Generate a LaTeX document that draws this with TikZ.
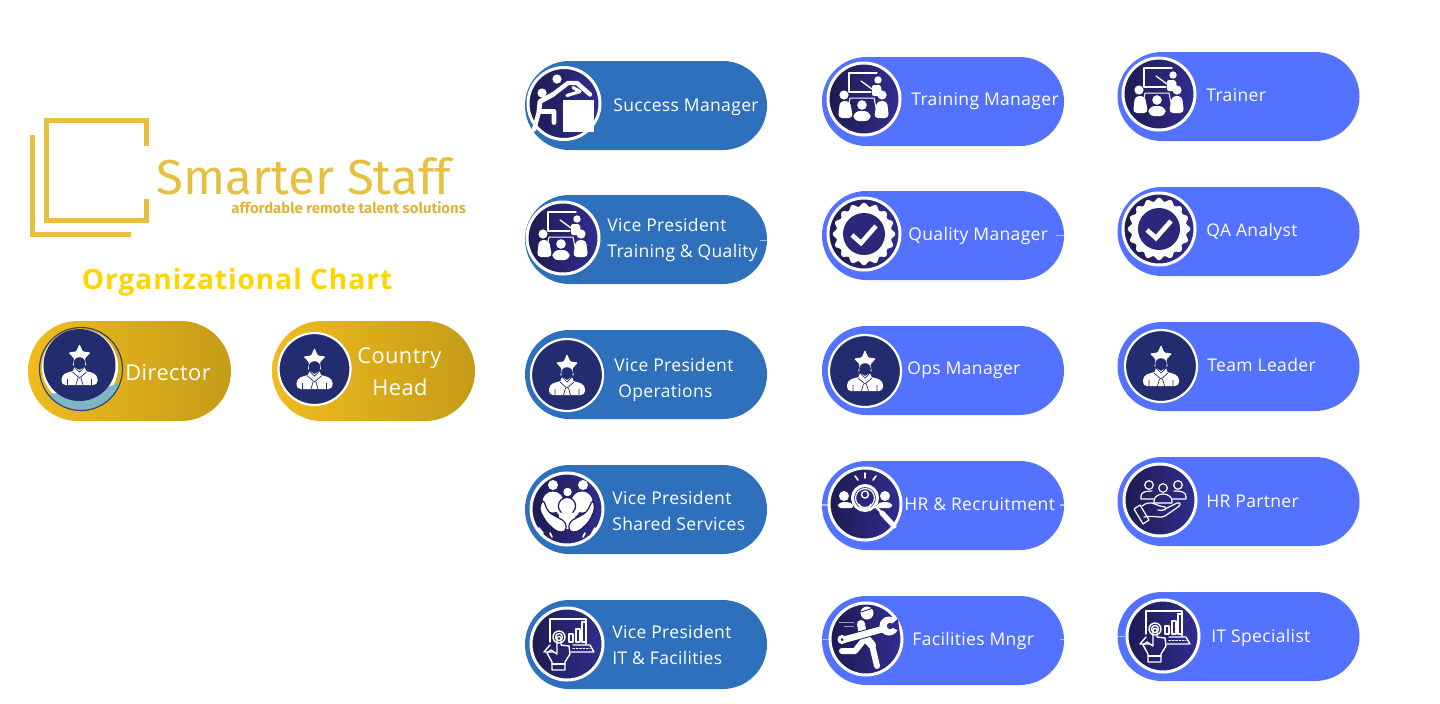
\documentclass[tikz,border=0pt]{standalone}
\usepackage{fontspec}
\setmainfont{Open Sans}
\newfontfamily\lblfont[LetterSpace=2]{Open Sans}
\newfontfamily\logofont[Ligatures=NoCommon]{Fira Sans}
\newfontfamily\subfont{Fira Sans}
\newfontfamily\ttlfont[LetterSpace=3.6]{Open Sans}
\definecolor{vpblue}{HTML}{2E70BC}
\definecolor{mgblue}{HTML}{5372FF}
\definecolor{navyA}{HTML}{1D1B50}
\definecolor{navyB}{HTML}{312D8F}
\definecolor{navyF}{HTML}{232C6E}
\definecolor{goldL}{HTML}{F0BC1E}
\definecolor{goldR}{HTML}{C49C18}
\definecolor{logogold}{HTML}{E6C03E}
\definecolor{ttlgold}{HTML}{FFD500}
\definecolor{tealw}{HTML}{7FB6C6}
\tikzset{
  pillbox/.style={rectangle,rounded corners=22.2pt,minimum width=121pt,minimum height=44.5pt,inner sep=0pt,draw=none},
  vppill/.style={pillbox,fill=vpblue},
  mgpill/.style={pillbox,fill=mgblue},
  goldpill/.style={rectangle,rounded corners=25pt,minimum width=101.5pt,minimum height=50pt,inner sep=0pt,draw=none,left color=goldL,right color=goldR},
  discbox/.style={circle,minimum size=36pt,inner sep=0pt,draw=white,line width=1.5pt,left color=navyA,right color=navyB},
  flatdisc/.style={circle,minimum size=36pt,inner sep=0pt,draw=white,line width=1.1pt,fill=navyF},
  lab/.style={anchor=base west,inner sep=0pt,text=white,font=\lblfont\fontsize{8.75}{10}\selectfont},
  biglab/.style={anchor=base west,inner sep=0pt,text=white,font=\lblfont\fontsize{10.9}{13}\selectfont},
  stub/.style={draw=white,draw opacity=.55,line width=.6pt},
  wl/.style={draw=white,line cap=round,line join=round},
  nl/.style={draw=navyA,line cap=round,line join=round},
  logoline/.style={draw=logogold,line width=2.5pt,line cap=butt,line join=miter}
}
\newcommand{\icperson}{%
  \fill[white,rounded corners=.5pt] (0,-21)--(3.3,-13.5)--(11,-12.5)--(5.4,-6.5)--(6.8,1)--(0,-2.5)--(-6.8,1)--(-5.4,-6.5)--(-11,-12.5)--(-3.3,-13.5)--cycle;
  \fill[navyF] (0,-2) circle[radius=5.8];
  \fill[white,rounded corners=2pt] (-18,20)--(-18,10)--(-8,6)--(8,6)--(18,10)--(18,20)--cycle;
  \fill[white] (-7,7)--(-5,2)--(0,5)--(5,2)--(7,7)--(0,13)--cycle;
  \draw[draw=navyF,line width=.35pt] (-7,7)--(0,13)--(7,7) (-5,2)--(0,7)--(5,2) (-1.5,13)--(-3.5,20) (1.5,13)--(3.5,20) (-12,14)--(-12,20) (12,14)--(12,20);
}
\newcommand{\ictrain}{%
  \draw[wl,line width=.65pt] (13,-26)--(-15,-26)--(-15,-7)--(7,-7);
  \draw[wl,line width=.65pt] (-3,-18)--(8,-10);
  \fill[white] (14,-19) circle[radius=3.7];
  \fill[white,rounded corners=1pt] (8,-14)--(17,-14)--(18,-3)--(8,-3)--cycle;
  \draw[wl,line width=.5pt] (-14,-1)--(10,-1)--(13,14) (-14,-1)--(-17,14);
  \fill[white] (-20,-4) circle[radius=4.6] (18,-4) circle[radius=4.6] (-2,6) circle[radius=4.8];
  \fill[white,rounded corners=2pt] (-26,19)--(-24,2)--(-14,2)--(-11,19)--cycle;
  \fill[white,rounded corners=2pt] (25,19)--(23,2)--(13,2)--(10,19)--cycle;
  \fill[white,rounded corners=3pt] (-11,22)--(-10,12)--(6,12)--(7,22)--cycle;
}
\newcommand{\icbadge}{%
  \fill[white] plot[domain=0:360,samples=161,smooth] ({\x}:{29.5+1.8*cos(16*\x)}) -- cycle;
  \fill[navyB!70!navyA] (0,0) circle[radius=21];
  \draw[wl,line width=2.3pt,line cap=butt,line join=miter] (-12,1)--(-3,9)--(12,-8);
}
\newcommand{\icclimb}{%
  \fill[white] (-1,-4) rectangle (30,28);
  \fill[white] (-7,-24.5) circle[radius=4.6] (-22,-10.5) circle[radius=4.6];
  \draw[wl,line width=2.2pt] (-11,-9)--(4,-20.5)--(13,-20.5)--(26,-9);
  \draw[wl,line width=1.6pt] (3,-8)--(16,-12)--(9,-16);
  \draw[wl,line width=2.4pt] (-11,-9)--(-24,-2)--(-25,8)--(-10,8)--(-10,19);
  \draw[wl,line width=2.2pt] (-25,8)--(-30,26);
}
\newcommand{\iccare}{%
  \fill[white] (-14,-24) circle[radius=5] (16,-24) circle[radius=5] (0.5,-17) circle[radius=4.2];
  \fill[white] (-14,-7) circle[radius=10.5] (15,-7) circle[radius=10.5];
  \fill[white,rounded corners=2pt] (-15,-9)--(17,-9)--(10,8)--(-8,8)--cycle;
  \draw[nl,line width=.6pt,fill=white] (0,-3) circle[radius=8.6];
  \fill[white,rounded corners=2pt] (-8,3)--(8,3)--(8,20)--(-8,20)--cycle;
  \draw[nl,line width=.6pt,fill=white,rounded corners=2pt] (-1,23)--(-10,23)--(-21,13)--(-28,0)--(-24,-10)--(-19,3)--(-12,7)--(-1,13)--cycle;
  \draw[nl,line width=.6pt,fill=white,rounded corners=2pt] (2,23)--(11,23)--(22,13)--(28,0)--(26,-10)--(20,3)--(13,7)--(2,13)--cycle;
  \draw[wl,line width=.8pt] (-24,24)--(-28,19) (-15,28)--(-17,24) (25,24)--(28,19) (16,28)--(18,24);
}
\newcommand{\icsearch}{%
  \fill[white] (-21,-8) circle[radius=5] (20,-8) circle[radius=5];
  \fill[white,rounded corners=2pt] (-28,4)--(-26,-2)--(-14,-2)--(-10,4)--cycle;
  \fill[white,rounded corners=2pt] (28,4)--(26,-2)--(14,-2)--(10,4)--cycle;
  \draw[draw=white,line width=1.5pt,fill=navyB!70!navyA] (0,-6) circle[radius=12.5];
  \draw[draw=white,line width=.6pt] (0,-6) circle[radius=9.5];
  \draw[draw=white,line width=.7pt] (0,-9.5) circle[radius=3.5] (-6,0) arc[start angle=180,end angle=360,x radius=6,y radius=-5];
  \draw[wl,line width=1.2pt] (11,3)--(17,9);
  \draw[wl,line width=2.6pt] (17,9)--(29,22);
  \draw[wl,line width=.8pt] (-10,-28)--(-7,-24) (0,-31)--(0,-26) (11,-28)--(8,-24);
}
\newcommand{\ichand}{%
  \begin{scope}[line width=.6pt]
  \draw[wl] (-11,-15) circle[radius=4.3] (3,-12) circle[radius=4.3] (18,-15) circle[radius=4.3];
  \draw[wl] (-19,-1)--(-19,-4) .. controls (-19,-8) and (-14,-9) .. (-8,-9) (26,-3) .. controls (26,-8) and (22,-9) .. (14,-9) (-19,-1)--(-6,-1) (26,-3)--(26,-1)--(12,-1);
  \draw[wl] (-6,3)--(-6,1) .. controls (-6,-3) and (-2,-6) .. (3,-6) .. controls (8,-6) and (12,-3) .. (12,1)--(12,3)--cycle;
  \draw[wl] (-18,6) .. controls (-10,0) and (-6,4) .. (0,6)--(5,7) .. controls (7,9) and (5,11) .. (-2,10) (5,9)--(17,3) .. controls (21,2) and (21,5) .. (18,7)--(5,16) .. controls (0,19) and (-4,15) .. (-16,17);
  \draw[wl] (-26,9)--(-20,5)--(-11,20)--(-17,24)--cycle;
  \end{scope}
}
\newcommand{\icfix}{%
  \fill[white] (1,-26) circle[radius=6.5];
  \draw[draw=navyA,line width=.4pt] (-5,-27)--(7,-31);
  \draw[wl,line width=3pt] (-3,2)--(-11,12)--(-24,12);
  \draw[wl,line width=3pt] (6,6)--(11,27);
  \draw[wl,line width=4pt] (-5,-15)--(-3,-4)--(6,6);
  \draw[nl,line width=4.2pt,line cap=butt] (-23,1)--(17,-10);
  \draw[wl,line width=3.3pt,line cap=butt] (-23,1)--(17,-10);
  \fill[white] (-24,0.5) circle[radius=4.6];
  \fill[navyA] (-24,0.5) circle[radius=1.5];
  \fill[white] (23,-13) circle[radius=9.5];
  \fill[navyB] (23,-13)--(32,-20)--(33.5,-8)--cycle;
  \fill[navyB] (24,-13) circle[radius=3.2];
  \draw[draw=white,draw opacity=.55,line width=.5pt] (-27,-17)--(-12,-17) (-22,-13)--(-12,-13);
}
\newcommand{\iclaptop}{%
  \begin{scope}[line width=.7pt]
  \draw[wl] (-17,-2)--(-17,-25)--(19,-25)--(19,0);
  \draw[wl] (2,-10) rectangle (6,-2) (9,-15) rectangle (13,-2) (15,-22) rectangle (19,-2);
  \draw[wl] (-8,-7) circle[radius=6] (-8,-7) circle[radius=3.5];
  \draw[wl] (-17,1)--(-23,8)--(-14,8) (6,1)--(23,1)--(27,8)--(4,8);
  \draw[wl,densely dotted] (6,4.5)--(23,4.5);
  \draw[wl] (-10,2)--(-10,-6) .. controls (-10,-8) and (-6,-8) .. (-6,-6)--(-6,1)--(2,2)--(3,10)--(-2,18)--(-2,26)--(-15,26)--(-15,18)--(-20,9)--(-16,6)--(-10,10)--cycle;
  \draw[wl] (-15,20)--(-2,20);
  \end{scope}
}
\newcommand{\mkpill}[4]{\node[#2] (#1) at (#3,#4) {};}
\newcommand{\mkdisc}[5]{\node[#2] (#1) at (#3,#4) {};\begin{scope}[shift={(#1.center)}]#5\end{scope}}
\begin{document}
\begin{tikzpicture}[x=0.5pt,y=-0.5pt]
\useasboundingbox (0,0) rectangle (1440,703);
\fill[white] (0,0) rectangle (1440,703);
% logo
\draw[logoline] (146,146)--(146,120.5)--(46,120.5)--(46,220.5)--(146,220.5)--(146,199);
\draw[logoline] (32.5,135)--(32.5,234.5)--(131,234.5);
\node[anchor=base west,inner sep=0pt,text=logogold,font=\logofont\fontsize{24.6}{30}\selectfont] (logoname) at (156,194) {Smarter Staff};
\node[anchor=base west,inner sep=0pt,text=logogold!95!black,font=\subfont\bfseries\fontsize{7.45}{9}\selectfont] (logosub) at (231,213) {affordable remote talent solutions};
\node[anchor=base west,inner sep=0pt,text=ttlgold,font=\ttlfont\bfseries\fontsize{14}{16}\selectfont] (title) at (81.5,289) {Organizational Chart};
% gold pills
\node[goldpill] (dirp) at (129.5,371) {};
\node[goldpill] (ctyp) at (373.5,371) {};
\fill[white] (80,367) circle[radius=38];
\begin{scope}
\clip (81,369) circle[radius=42];
\fill[tealw] (30,393) .. controls (60,394) and (100,394) .. (130,378) -- (130,420) -- (30,420) -- cycle;
\end{scope}
\draw[draw=navyF!75!gray,line width=.6pt] (81,369) circle[radius=41.5];
\node[flatdisc,draw=none] (dird) at (79.5,365) {};
\begin{scope}[shift={(dird.center)}]\icperson\end{scope}
\mkdisc{ctyd}{flatdisc}{314.5}{369}{\icperson}
\node[biglab] (dirt) at (125,380) {Director};
\node[biglab] (ctyt) at (357,363) {Country};
\node[biglab] (ctyt2) at (372,395) {Head};
% VP column
\mkpill{p11}{vppill}{646}{105.5}
\mkpill{p12}{vppill}{646}{239.5}
\mkpill{p13}{vppill}{646}{374.5}
\mkpill{p14}{vppill}{646}{509.5}
\mkpill{p15}{vppill}{646}{644.5}
% manager column
\mkpill{p21}{mgpill}{943}{101.5}
\mkpill{p22}{mgpill}{943}{235.5}
\mkpill{p23}{mgpill}{943}{370.5}
\mkpill{p24}{mgpill}{943}{505.5}
\mkpill{p25}{mgpill}{943}{640.5}
% staff column
\mkpill{p31}{mgpill}{1238.5}{96.5}
\mkpill{p32}{mgpill}{1238.5}{231.5}
\mkpill{p33}{mgpill}{1238.5}{366.5}
\mkpill{p34}{mgpill}{1238.5}{501.5}
\mkpill{p35}{mgpill}{1238.5}{636.5}
% stubs
\draw[stub] (760,240.5)--(767,240.5);
\draw[stub] (1056,235.5)--(1064,235.5);
\draw[stub] (822,505)--(829,505);
\draw[stub] (1060,505)--(1064,505);
\draw[stub] (822,639.5)--(830,639.5);
\draw[stub] (1060,639.5)--(1064,639.5);
\draw[stub] (1117,636.5)--(1125,636.5);
% discs
\mkdisc{d11}{discbox}{564}{103.5}{\icclimb}
\mkdisc{d12}{discbox}{563}{238}{\ictrain}
\mkdisc{d13}{flatdisc}{567}{375}{\icperson}
\mkdisc{d14}{discbox}{567}{509}{\iccare}
\mkdisc{d15}{discbox}{567}{644}{\iclaptop}
\mkdisc{d21}{discbox}{864}{99}{\ictrain}
\mkdisc{d22}{discbox}{864}{234}{\icbadge}
\mkdisc{d23}{flatdisc}{865}{371}{\icperson}
\mkdisc{d24}{discbox}{865}{504}{\icsearch}
\mkdisc{d25}{discbox}{866}{639}{\icfix}
\mkdisc{d31}{discbox}{1159}{94}{\ictrain}
\mkdisc{d32}{discbox}{1159}{229}{\icbadge}
\mkdisc{d33}{flatdisc}{1161}{366}{\icperson}
\mkdisc{d34}{discbox}{1160}{500}{\ichand}
\mkdisc{d35}{discbox}{1163}{636}{\iclaptop}
% labels
\node[lab] (t11) at (613,111) {Success Manager};
\node[lab] (t12) at (607,231) {Vice President};
\node[lab] (t12b) at (607,257) {Training \& Quality};
\node[lab] (t13) at (614,371) {Vice President};
\node[lab] (t13b) at (618,397) {Operations};
\node[lab] (t14) at (612,504.5) {Vice President};
\node[lab] (t14b) at (612,530.5) {Shared Services};
\node[lab] (t15) at (612,638.5) {Vice President};
\node[lab] (t15b) at (612,664.5) {IT \& Facilities};
\node[lab] (t21) at (911,105) {Training Manager};
\node[lab] (t22) at (908,240) {Quality Manager};
\node[lab] (t23) at (907,374) {Ops Manager};
\node[lab] (t24) at (904,510) {HR \& Recruitment};
\node[lab] (t25) at (912,645) {Facilities Mngr};
\node[lab] (t31) at (1206,101) {Trainer};
\node[lab] (t32) at (1206,236) {QA Analyst};
\node[lab] (t33) at (1207,371) {Team Leader};
\node[lab] (t34) at (1206,507) {HR Partner};
\node[lab] (t35) at (1211,642) {IT Specialist};
\end{tikzpicture}
\end{document}
